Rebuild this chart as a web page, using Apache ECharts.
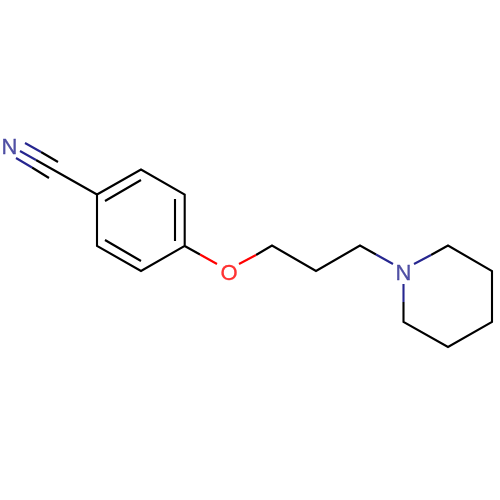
<!DOCTYPE html>
<html><head><meta charset="utf-8">
<style>html,body{margin:0;padding:0;background:#fff}#c{width:500px;height:500px}</style>
<script src="https://cdn.jsdelivr.net/npm/echarts@6/dist/echarts.min.js"></script>
</head><body><div id="c"></div>
<script>
const blackPaths = [
  [[97,194.5],[141,169.5],[184.7,194.5],[184.7,246],[141,271],[97,246],[97,194.5]],
  [[105,201],[141,180]],
  [[175,199],[175,241]],
  [[105,240],[141,261]],
  [[97,194.5],[36,160]],
  [[58,162],[41,152]],
  [[49,178],[32,167.5]],
  [[184.7,246],[200,254.5]],
  [[256,255],[272,245.5],[316,271],[360,245.5],[376,254.5]],
  [[431,255],[448,245.5],[492,271],[492,322],[448,347],[403.5,322],[403.5,302]]
];
const bluePaths = [
  [[36,160],[20,151]],
  [[41,152],[25,143]],
  [[32,167.5],[16,158]],
  [[376,254.5],[393,264]],
  [[414,264],[431,255]],
  [[403.5,302],[403.5,284]]
];
const redPaths = [
  [[200,254.5],[217,264]],
  [[239,264],[256,255]]
];
const atomLabels = [
  {text:'N', at:[9.5,148], color:'#26268F'},
  {text:'O', at:[229,273.5], color:'#FF0000'},
  {text:'N', at:[403.5,273.5], color:'#26268F'}
];
function flat(paths){
  const out=[];
  paths.forEach((p,i)=>{ if(i) out.push(['-','-']); p.forEach(q=>out.push(q)); });
  return out;
}
function bond(paths,color){
  return {type:'line',data:flat(paths),symbol:'none',connectNulls:false,animation:false,silent:true,clip:false,
    lineStyle:{color:color,width:2.1,cap:'butt',join:'miter'}};
}
const chart=echarts.init(document.getElementById('c'),null,{renderer:'canvas'});
chart.setOption({
  animation:false,
  backgroundColor:'#fff',
  grid:{left:0,right:0,top:0,bottom:0},
  xAxis:{type:'value',min:0,max:500,show:false},
  yAxis:{type:'value',min:0,max:500,inverse:true,show:false},
  series:[
    bond(blackPaths,'#000000'),
    bond(bluePaths,'#26268F'),
    bond(redPaths,'#FF0000'),
    {type:'scatter',symbolSize:0,silent:true,animation:false,
     data:atomLabels.map(a=>({value:a.at,
       label:{show:true,position:'inside',formatter:a.text,color:a.color,
              textBorderColor:a.color,textBorderWidth:0.3,
              fontFamily:'Liberation Sans',fontSize:22,align:'center',verticalAlign:'middle'}}))}
  ]
});
</script></body></html>
